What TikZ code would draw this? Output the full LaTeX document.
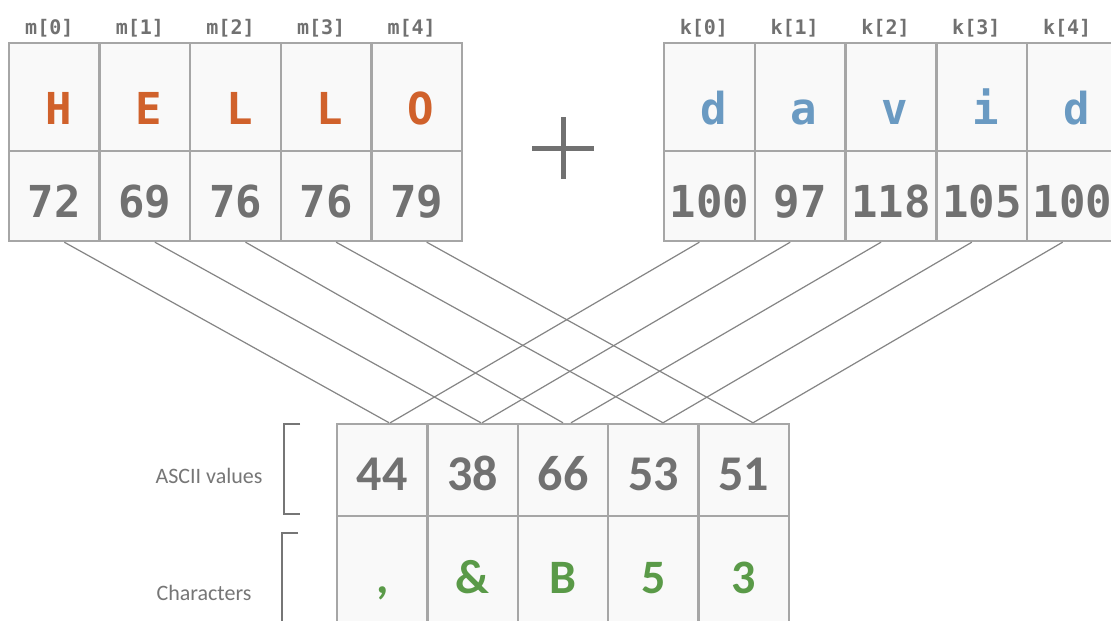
\documentclass[tikz,border=0pt]{standalone}
\usepackage{fontspec}
\setmonofont{DejaVu Sans Mono}
\setsansfont{Carlito}
\definecolor{cellfill}{HTML}{F9F9F9}
\definecolor{cellline}{HTML}{A6A6A6}
\definecolor{txtgray}{HTML}{717171}
\definecolor{lblgray}{HTML}{767676}
\definecolor{orng}{HTML}{D0612B}
\definecolor{blu}{HTML}{6A9AC2}
\definecolor{grn}{HTML}{5A9A48}
\definecolor{wire}{HTML}{858585}
\begin{document}
\begin{tikzpicture}[x=1pt,y=-1pt,
  cell/.style={draw=cellline,line width=2.4pt,fill=cellfill,inner sep=0pt},
  idx/.style={anchor=base,text=txtgray,font=\ttfamily\bfseries\fontsize{20}{20}\selectfont},
  letter/.style={anchor=base,font=\ttfamily\bfseries\fontsize{44}{44}\selectfont},
  bignum/.style={anchor=base,text=txtgray,font=\ttfamily\bfseries\fontsize{44}{44}\selectfont},
  ascnum/.style={anchor=base,text=txtgray,font=\sffamily\bfseries\fontsize{50}{50}\selectfont},
  ascchr/.style={anchor=base,text=grn,font=\sffamily\bfseries\fontsize{48}{48}\selectfont},
  sidelbl/.style={anchor=base,text=lblgray,font=\sffamily\fontsize{22}{22}\selectfont},
  wireline/.style={draw=wire,line width=1.2pt},
  bracketline/.style={draw=lblgray,line width=2.4pt},
  plusline/.style={draw=txtgray,line width=5pt}]
\clip (0,0) rectangle (1111,621);
\fill[white] (0,0) rectangle (1111,621);
% cells
\foreach \i in {0,...,4}{
  \node[cell,minimum width=90.6,minimum height=108] (mc\i) at ({54.3+90.6*\i},97) {};
  \node[cell,minimum width=90.6,minimum height=90] (mn\i) at ({54.3+90.6*\i},196) {};
  \node[cell,minimum width=90.8,minimum height=108] (kc\i) at ({709.4+90.8*\i},97) {};
  \node[cell,minimum width=90.8,minimum height=90] (kn\i) at ({709.4+90.8*\i},196) {};
  \node[cell,minimum width=90.4,minimum height=92] (bv\i) at ({382.2+90.4*\i},470) {};
  \node[cell,minimum width=90.4,minimum height=110] (bc\i) at ({382.2+90.4*\i},571) {};
}
% index labels
\foreach \i in {0,...,4}{
  \node[idx] (mi\i) at ({49.3+90.6*\i},34) {m[\i]};
  \node[idx] (ki\i) at ({703.9+90.8*\i},34) {k[\i]};
}
% letters
\foreach \t [count=\i from 0] in {H,E,L,L,O}
  \node[letter,text=orng] (ml\i) at ({58.3+90.6*\i},124) {\t};
\foreach \t [count=\i from 0] in {d,a,v,i,d}
  \node[letter,text=blu] (kl\i) at ({713.4+90.8*\i},124) {\t};
% numbers
\foreach \t [count=\i from 0] in {72,69,76,76,79}
  \node[bignum] (mv\i) at ({54.3+90.6*\i},217) {\t};
\foreach \t [count=\i from 0] in {100,97,118,105,100}
  \node[bignum] (kv\i) at ({709.4+90.8*\i},217) {\t};
\foreach \t [count=\i from 0] in {44,38,66,53,51}
  \node[ascnum] (av\i) at ({382.2+90.4*\i},490) {\t};
\foreach \t [count=\i from 0] in {{,},\&,B,5,3}
  \node[ascchr] (ac\i) at ({382.2+90.4*\i},593) {\t};
% connectors
\foreach \i/\ls/\rs in {0/7/8,1/8.4/9.4,2/0/8,3/9.6/9.6,4/9.2/9.2}{
  \draw[wireline] ([xshift=10]mn\i.south) -- ([xshift=\ls]bv\i.north);
  \draw[wireline] ([xshift=-10]kn\i.south) -- ([xshift=\rs]bv\i.north);
}
% plus sign
\coordinate (plusc) at (563,148);
\draw[plusline] ([xshift=-31]plusc) -- ([xshift=31]plusc);
\draw[plusline] ([yshift=31]plusc) -- ([yshift=-31]plusc);
% brackets
\coordinate (br1a) at (300,424);
\coordinate (br1b) at (300,514);
\draw[bracketline] (br1a) -- ++(-16,0) |- (br1b);
\coordinate (br2a) at (298,533);
\coordinate (br2b) at (282,630);
\draw[bracketline] (br2a) -| (br2b);
% side labels
\node[sidelbl] (lblascii) at (209,483) {ASCII values};
\node[sidelbl] (lblchars) at (204,600) {Characters};
\end{tikzpicture}
\end{document}
